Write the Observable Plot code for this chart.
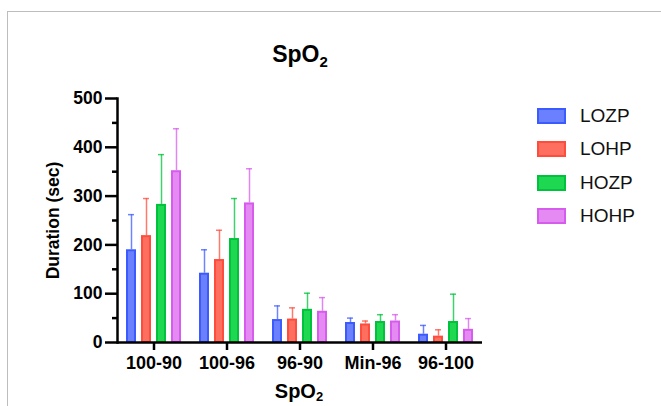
<!DOCTYPE html>
<html>
<head>
<meta charset="utf-8">
<script src="https://cdn.jsdelivr.net/npm/d3@7"></script>
<script src="https://cdn.jsdelivr.net/npm/@observablehq/plot@0.6"></script>
<style>
  html, body { margin: 0; padding: 0; background: #fff; }
  #wrap { position: relative; width: 661px; height: 406px; overflow: hidden; font-family: "Liberation Sans", Arial, sans-serif; }
  #frame { position: absolute; left: 7px; top: 11px; right: -5px; bottom: -5px; border-left: 1px solid #bdbdbd; border-top: 1px solid #bdbdbd; }
  #title { position: absolute; left: 200px; width: 200px; top: 42px; text-align: center; font-weight: bold; font-size: 23px; line-height: 24px; color: #000; }
  #title sub { font-size: 15px; vertical-align: -5px; line-height: 0; }
  #xtitle { position: absolute; left: 199px; width: 200px; top: 380px; text-align: center; font-weight: bold; font-size: 20px; line-height: 22px; color: #000; }
  #xtitle sub { font-size: 13px; vertical-align: -3px; line-height: 0; }
  #chart { position: absolute; left: 0; top: 80px; }
  #legend { position: absolute; left: 537px; top: 99px; }
  .item { display: flex; align-items: center; height: 33.5px; }
  .sw { width: 25px; height: 12px; border: 2px solid; margin-right: 14px; }
  .lab { font-size: 19px; color: #111; }
</style>
</head>
<body>
<div id="wrap">
  <div id="frame"></div>
  <div id="title">SpO<sub>2</sub></div>
  <div id="chart"></div>
  <div id="xtitle">SpO<sub>2</sub></div>
  <div id="legend"></div>
</div>
<script>
const categories = ["100-90", "100-96", "96-90", "Min-96", "96-100"];
const series = ["LOZP", "LOHP", "HOZP", "HOHP"];
const fills = ["#6b80ff", "#ff6f60", "#1ed852", "#e58af2"];
const strokes = ["#3c5bff", "#ff4c3c", "#00c23c", "#d55cec"];
// mean duration (sec) per series, in category order
const LOZP = [190, 142, 47, 41, 17];
const LOHP = [219, 170, 48, 38, 13];
const HOZP = [283, 213, 68, 43, 43];
const HOHP = [352, 286, 64, 44, 27];
// standard deviation (upper error bar) per series
const LOZP_sd = [72, 48, 28, 9, 18];
const LOHP_sd = [76, 60, 23, 6, 13];
const HOZP_sd = [102, 82, 33, 14, 56];
const HOHP_sd = [86, 70, 28, 13, 22];
const yTicks = [0, 100, 200, 300, 400, 500];
const yMinor = [50, 150, 250, 350, 450];

const means = [LOZP, LOHP, HOZP, HOHP];
const sds = [LOZP_sd, LOHP_sd, HOZP_sd, HOHP_sd];
const data = categories.flatMap((c, i) => series.map((s, j) => ({
  cat: c, series: s, mean: means[j][i], top: means[j][i] + sds[j][i], fill: fills[j], stroke: strokes[j]
})));

const ff = "'Liberation Sans', Arial, sans-serif";

const chart = Plot.plot({
  width: 661,
  height: 326,
  marginLeft: 115,
  marginRight: 177,
  marginTop: 18,
  marginBottom: 64,
  style: { fontFamily: ff, fontWeight: "bold", fontSize: "17px", color: "#000", background: "transparent" },
  fx: { domain: categories, padding: 0 },
  x: { domain: series, paddingInner: 0.36, paddingOuter: 0.54, axis: null },
  y: { domain: [0, 500], axis: null },
  marks: [
    Plot.ruleX(data, { fx: "cat", x: "series", y1: "mean", y2: "top", stroke: "stroke", strokeOpacity: 0.75, strokeWidth: 1.5 }),
    Plot.tickY(data, { fx: "cat", x: "series", y: "top", stroke: "stroke", strokeOpacity: 0.75, strokeWidth: 1.5, insetLeft: 2, insetRight: 2 }),
    Plot.barY(data, { fx: "cat", x: "series", y: "mean", fill: "fill", stroke: "stroke", strokeWidth: 2, insetLeft: 1, insetRight: 1, insetTop: 1 }),
    Plot.ruleY([0], { stroke: "#000", strokeWidth: 2.5 }),
    Plot.frame({ anchor: "left", facetAnchor: "left", stroke: "#000", strokeWidth: 2.5 }),
    Plot.axisY({ fontSize: 17.5, fontWeight: "bold", fontFamily: ff, ticks: yTicks, tickSize: 12, tickPadding: 3, strokeWidth: 2.5, label: "Duration (sec)", labelAnchor: "center", labelArrow: "none", labelOffset: 71, facetAnchor: "left" }),
    Plot.axisY({ ticks: yMinor, tickSize: 5, text: null, strokeWidth: 2.5, label: null, facetAnchor: "left" }),
    Plot.axisFx({ fontSize: 18, fontWeight: "bold", fontFamily: ff, anchor: "bottom", tickSize: 8, tickPadding: 6, strokeWidth: 2.5, label: null })
  ]
});
document.getElementById("chart").appendChild(chart);

const legend = document.getElementById("legend");
series.forEach((s, j) => {
  const item = document.createElement("div");
  item.className = "item";
  const sw = document.createElement("div");
  sw.className = "sw";
  sw.style.background = fills[j];
  sw.style.borderColor = strokes[j];
  const lab = document.createElement("span");
  lab.className = "lab";
  lab.textContent = s;
  item.appendChild(sw);
  item.appendChild(lab);
  legend.appendChild(item);
});
</script>
</body>
</html>
